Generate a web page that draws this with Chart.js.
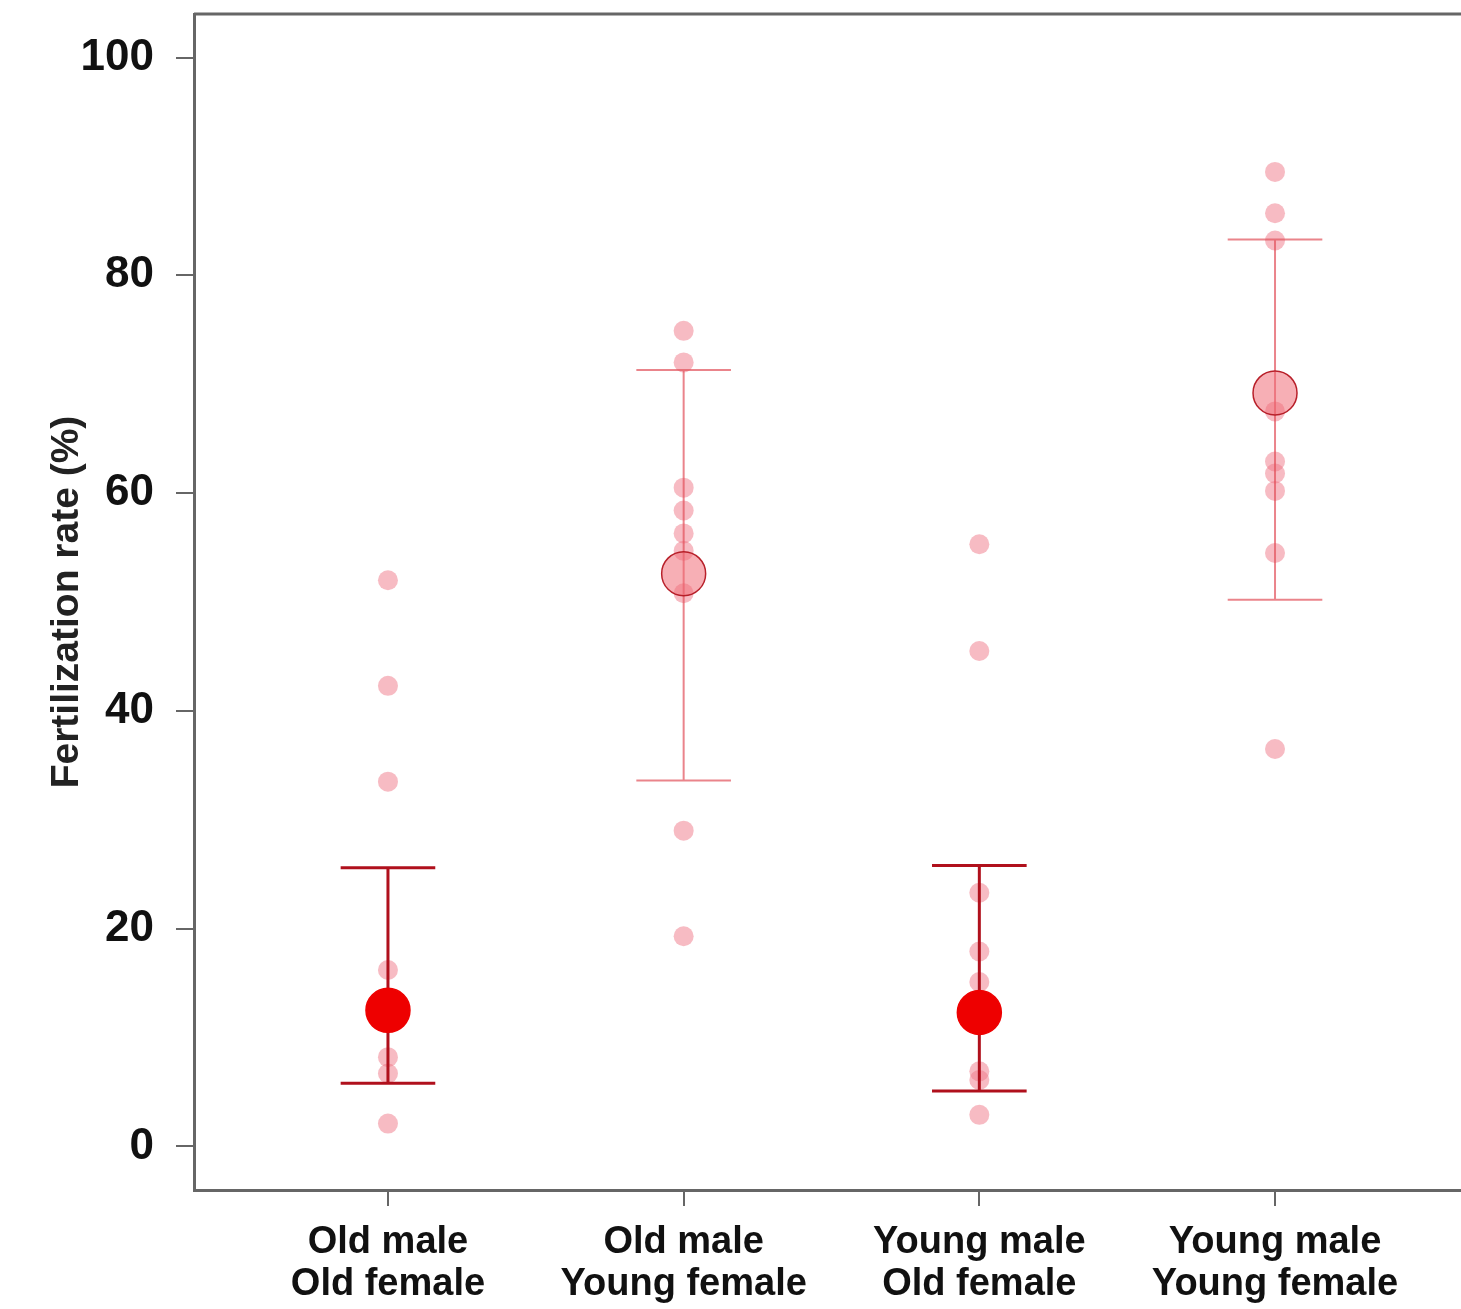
<!DOCTYPE html>
<html lang="en">
<head>
    <meta charset="UTF-8">
    <title>Fertilization rate</title>
    <style>
        body {
            margin: 0;
            padding: 0;
            background-color: #ffffff;
            overflow: hidden;
        }

        .chart {
            width: 1461px;
            height: 1309px;
        }

        .chart canvas {
            display: block;
        }
    </style>
</head>
<body>
    <div class="chart">
        <canvas id="fertChart" width="1461" height="1309"></canvas>
    </div>
    <script src="https://cdn.jsdelivr.net/npm/chart.js"></script>
    <script>
    // Groups (x axis, two-line labels)
    const groupLabels = [
        ['Old male', 'Old female'],
        ['Old male', 'Young female'],
        ['Young male', 'Old female'],
        ['Young male', 'Young female']
    ];

    // Group means and error bar limits (%)
    const groupMeans = [12.5, 52.6, 12.3, 69.2];
    const upperLimits = [25.6, 71.3, 25.8, 83.3];
    const lowerLimits = [5.8, 33.6, 5.1, 50.2];

    // Individual values per group (%)
    const oldOldValues = [52.0, 42.3, 33.5, 16.2, 8.2, 6.7, 2.1];
    const oldYoungValues = [74.9, 72.0, 60.5, 58.4, 56.3, 54.7, 50.8, 29.0, 19.3];
    const youngOldValues = [55.3, 45.5, 23.3, 17.9, 15.1, 6.9, 6.1, 2.9];
    const youngYoungValues = [89.5, 85.7, 83.2, 67.5, 62.9, 61.8, 60.2, 54.5, 36.5];

    // Y axis ticks
    const yTicks = [0, 20, 40, 60, 80, 100];

    const individualValues = [oldOldValues, oldYoungValues, youngOldValues, youngYoungValues];
    const solidGroup = [true, false, true, false];
    const capHalf = 0.16;
    const fontFamily = 'Arial, "Liberation Sans", sans-serif';

    const datasets = [];

    // individual points
    datasets.push({
        label: 'individual',
        data: individualValues.flatMap((vals, i) => vals.map(v => ({ x: i, y: v }))),
        backgroundColor: 'rgba(240, 120, 135, 0.5)',
        borderWidth: 0,
        pointRadius: 10,
        order: 3
    });

    // error bars, one line dataset per group (gaps split the segments)
    groupMeans.forEach((m, i) => {
        const hi = upperLimits[i], lo = lowerLimits[i];
        datasets.push({
            label: 'err' + i,
            data: [
                { x: i - capHalf, y: hi }, { x: i + capHalf, y: hi }, { x: i, y: null },
                { x: i, y: hi }, { x: i, y: lo }, { x: i, y: null },
                { x: i - capHalf, y: lo }, { x: i + capHalf, y: lo }
            ],
            showLine: true,
            spanGaps: false,
            borderColor: solidGroup[i] ? '#b0101c' : 'rgba(225, 80, 90, 0.7)',
            borderWidth: solidGroup[i] ? 3 : 2,
            pointRadius: 0,
            order: 2
        });
    });

    // means
    datasets.push({
        label: 'means',
        data: groupMeans.map((m, i) => ({ x: i, y: m })),
        backgroundColor: groupMeans.map((m, i) => solidGroup[i] ? '#ee0000' : 'rgba(240, 110, 120, 0.55)'),
        borderColor: groupMeans.map((m, i) => solidGroup[i] ? '#ee0000' : '#b8202a'),
        borderWidth: 1.5,
        pointRadius: 22,
        order: 1
    });

    // top frame line
    const frameTop = {
        id: 'frameTop',
        afterDraw(chart) {
            const a = chart.chartArea;
            const ctx = chart.ctx;
            ctx.save();
            ctx.strokeStyle = '#666';
            ctx.lineWidth = 3;
            ctx.beginPath();
            ctx.moveTo(a.left, a.top);
            ctx.lineTo(a.right, a.top);
            ctx.stroke();
            ctx.restore();
        }
    };

    // drop the automatic label overhang padding so the plot box fills the canvas
    function noOverhang(scale) {
        scale.paddingTop = 0;
        scale.paddingBottom = 0;
        scale.paddingLeft = 0;
        scale.paddingRight = 0;
    }

    new Chart(document.getElementById('fertChart').getContext('2d'), {
        type: 'scatter',
        data: { datasets: datasets },
        options: {
            responsive: false,
            animation: false,
            layout: { autoPadding: false, padding: { top: 14, left: 0, right: 0, bottom: 0 } },
            plugins: {
                legend: { display: false },
                tooltip: { enabled: false }
            },
            scales: {
                x: {
                    type: 'linear',
                    min: -0.656,
                    max: 3.629,
                    afterBuildTicks: scale => {
                        scale.ticks = groupLabels.map((l, i) => ({ value: i }));
                    },
                    afterFit: scale => { scale.height = 119; noOverhang(scale); },
                    ticks: {
                        callback: v => groupLabels[v],
                        color: '#111',
                        padding: 15,
                        autoSkip: false,
                        maxRotation: 0,
                        font: { family: fontFamily, size: 38, weight: 'bold', lineHeight: 1.12 }
                    },
                    grid: { drawOnChartArea: false, drawTicks: true, tickLength: 16, color: '#666', lineWidth: 2 },
                    border: { display: true, color: '#666', width: 3 }
                },
                y: {
                    min: -4,
                    max: 104,
                    afterBuildTicks: scale => {
                        scale.ticks = yTicks.map(v => ({ value: v }));
                    },
                    afterFit: scale => { scale.width = 194; noOverhang(scale); },
                    ticks: {
                        color: '#111',
                        padding: 22,
                        font: { family: fontFamily, size: 44, weight: 'bold' }
                    },
                    grid: { drawOnChartArea: false, drawTicks: true, tickLength: 18, color: '#666', lineWidth: 2 },
                    border: { display: true, color: '#666', width: 3 },
                    title: {
                        display: true,
                        text: 'Fertilization rate (%)',
                        color: '#222',
                        padding: { top: 44, bottom: 0 },
                        font: { family: fontFamily, size: 39, weight: 'bold', lineHeight: 1.2 }
                    }
                }
            }
        },
        plugins: [frameTop]
    });
    </script>
</body>
</html>
